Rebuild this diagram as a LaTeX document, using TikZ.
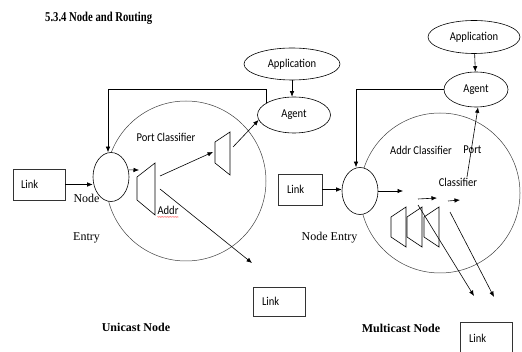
\documentclass[tikz,border=0pt]{standalone}
\usepackage{fontspec}
\usepackage{graphicx}
\setmainfont{Liberation Serif}
\newfontfamily\uisans{Carlito}
\usetikzlibrary{arrows.meta,shapes.geometric,decorations.pathmorphing}

% narrow sans labels
\newcommand\slimtext[1]{\scalebox{0.88}[1]{#1}}

\begin{document}
\begin{tikzpicture}[x=1pt,y=-1pt,
  arr/.style={-{Latex[length=5.5pt,width=4.5pt]}, line width=0.6pt},
  oval/.style={ellipse, draw, line width=0.6pt, inner sep=0pt,
    font=\uisans\fontsize{12}{14}\selectfont},
  ring/.style={circle, draw=black!75, line width=0.5pt, inner sep=0pt,
    minimum size=160pt},
  entrynode/.style={ellipse, draw, fill=white, line width=0.6pt, inner sep=0pt,
    minimum width=36pt, minimum height=49pt},
  linkbox/.style={draw=black!80, line width=0.7pt, inner ysep=0pt, align=left,
    font=\uisans\fontsize{12}{14}\selectfont},
  trap/.style={draw, line width=0.6pt, line join=miter},
  lbl/.style={inner sep=0pt, font=\uisans\fontsize{12}{14}\selectfont},
  rmlbl/.style={inner sep=0pt, font=\fontsize{12}{14}\selectfont},
  heading/.style={inner sep=0pt, font=\bfseries\fontsize{12}{14}\selectfont}
]
\fill[white] (0,0) rectangle (522,352);
\useasboundingbox (0,0) rectangle (522,352);

% heading
\node[inner sep=0pt, anchor=west, font=\bfseries\fontsize{13.5}{15}\selectfont]
  (title) at (45,18) {\scalebox{0.79}[1]{5.3.4 Node and Routing}};

%% ---------------- unicast node ----------------
\node[ring] (c1) at (186,181) {};
\node[oval, minimum width=96pt, minimum height=32pt] (app1) at (292,64) {\slimtext{Application}};
\node[oval, minimum width=73pt, minimum height=36pt] (ag1) at (294,115) {\slimtext{Agent}};
\node[entrynode] (en1) at (111,177) {};
\node[linkbox, minimum height=31pt, text width=36pt, inner xsep=8pt] (l1) at (39,184.5) {\slimtext{Link}};
\node[linkbox, minimum height=29pt, text width=34pt, inner xsep=9pt] (l2) at (279,301.5) {\slimtext{Link}};

% address and port classifiers
\draw[trap] (137,177) -- (155,163) -- (155,215) -- (137,200) -- cycle;
\draw[trap] (215,142) -- (230,132) -- (230,175) -- (215,163) -- cycle;

\coordinate (a1in) at (139,170);
\coordinate (a1up) at (160,176);
\coordinate (a1dn) at (160,189);
\coordinate (p1in) at (213,152);
\coordinate (p1out) at (233,147);
\coordinate (out1) at (252,263);
\coordinate (fb1) at (0,89);

\draw[arr] (l1.east) -- (l1.east -| en1.west);
\draw[arr] (en1.22) -- (a1in);
\draw[arr] (a1up) -- (p1in);
\draw[arr] (p1out) -- (ag1.188);
\draw[arr] (a1dn) -- (out1);
\draw[arr] (app1) -- (app1 |- ag1.north);
\draw[arr] (ag1.156) -- (ag1.156 |- fb1) -| ([xshift=-3pt]en1.north);

\node[lbl] (pc1) at (166,137) {\slimtext{Port Classifier}};
\node[lbl] (ad1) at (168,210) {\slimtext{Addr}};
\draw[red!80, line width=0.3pt, decorate,
  decoration={snake, amplitude=0.4pt, segment length=1.6pt}]
  ([yshift=-2.5pt]ad1.south west) -- ([yshift=-2.5pt]ad1.south east);
\node[rmlbl] (nd1) at (86.5,198) {Node};
\node[rmlbl] (et1) at (86.5,238) {Entry};
\node[heading] (uc) at (136,327) {Unicast Node};

%% ---------------- multicast node ----------------
\node[ring] (c2) at (440,193) {};
\node[oval, minimum width=92pt, minimum height=33pt] (app2) at (474,37) {\slimtext{Application}};
\node[oval, minimum width=64pt, minimum height=35pt] (ag2) at (476,89.5) {\slimtext{Agent}};
\node[entrynode, minimum height=47pt] (en2) at (360,191) {};
\node[linkbox, minimum height=31pt, text width=26pt, inner xsep=9pt] (l3) at (300,189.5) {\slimtext{Link}};
\node[linkbox, minimum height=32pt, text width=34pt, inner xsep=9pt] (l4) at (486,338) {\slimtext{Link}};

% three address classifiers
\foreach \x in {391,407,424}
  \draw[trap] (\x,217) -- (\x+15,207) -- (\x+15,247) -- (\x,237) -- cycle;

\coordinate (m1) at (403,191);
\coordinate (s1a) at (418,199);
\coordinate (s1b) at (437,198);
\coordinate (s2a) at (448,201);
\coordinate (s2b) at (460,200);
\coordinate (d1a) at (418,205);
\coordinate (d1b) at (474,296);
\coordinate (d2a) at (450,212);
\coordinate (d2b) at (494,297);
\coordinate (pc2) at (467,177);

\draw[arr] (l3.east) -- (l3.east -| en2.west);
\draw[arr] (en2.east) -- (m1);
\draw[arr] (s1a) -- (s1b);
\draw[arr] (s2a) -- (s2b);
\draw[arr] (d1a) -- (d1b);
\draw[arr] (d2a) -- (d2b);
\draw[arr] (app2) -- (ag2);
\draw[arr] (ag2.west) -| ([xshift=-4pt]en2.north);

\node[lbl] (acl) at (421,150) {\slimtext{Addr Classifier}};
\node[lbl] (prt) at (472.5,150) {\slimtext{Port}};
\node[lbl] (cls) at (458,182.5) {\slimtext{Classifier}};
\draw[arr] (pc2) -- ([xshift=2pt]ag2.south);
\node[rmlbl] (ne2) at (329.5,238) {Node Entry};
\node[heading] (mc) at (401,328) {Multicast Node};
\end{tikzpicture}
\end{document}
